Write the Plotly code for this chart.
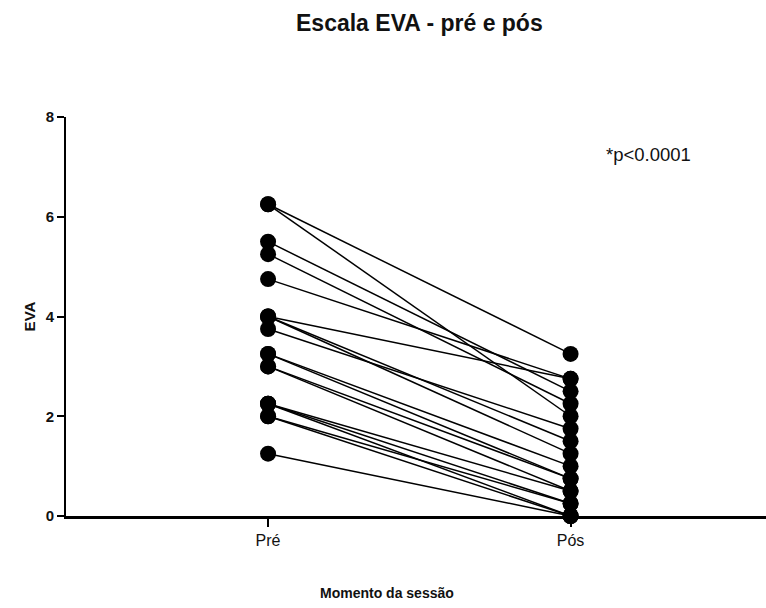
import plotly.graph_objects as go

moments = ["Pré", "Pós"]
pre = [6.25, 6.25, 5.5, 5.25, 4.75, 4.0, 4.0, 4.0, 3.75, 3.25, 3.25, 3.0, 3.0, 2.25, 2.25, 2.25, 2.0, 2.0, 1.25]
pos = [3.25, 2.0, 2.5, 2.25, 2.75, 2.75, 1.5, 1.25, 1.75, 1.0, 0.75, 0.5, 0.75, 0.25, 0.0, 0.5, 0.0, 0.25, 0.0]
y_ticks = [0, 2, 4, 6, 8]

xs, ys = [], []
for a, b in zip(pre, pos):
    xs += [0, 1, None]
    ys += [a, b, None]

W, H = 766, 608
L, R, T, B = 66, 0, 117, 92
PW, PH = W - L - R, H - T - B

fig = go.Figure()
fig.add_trace(go.Scatter(
    x=xs, y=ys, mode="lines+markers",
    line=dict(color="black", width=1.5),
    marker=dict(color="black", size=16),
    cliponaxis=False, showlegend=False, hoverinfo="skip"))

fig.update_layout(
    width=W, height=H,
    paper_bgcolor="white", plot_bgcolor="white",
    margin=dict(l=L, r=R, t=T, b=B, autoexpand=False),
    font=dict(family="Liberation Sans, Arial", color="#111"),
    annotations=[
        dict(text="<b>Escala EVA - pré e pós</b>", x=(420 - L) / PW, xref="paper",
             y=1 + (T - 23) / PH, yref="paper", showarrow=False,
             xanchor="center", yanchor="middle",
             font=dict(size=23, color="#111")),
        dict(text="*p<0.0001", x=(648 - L) / PW, xref="paper", y=7.24, yref="y",
             showarrow=False, xanchor="center", yanchor="middle",
             font=dict(size=18.5, color="#111")),
        dict(text="<b>Momento da sessão</b>", x=(387 - L) / PW, xref="paper",
             y=-(593 - (H - B)) / PH, yref="paper", showarrow=False,
             xanchor="center", yanchor="middle",
             font=dict(size=14, color="#111")),
    ],
)
fig.update_xaxes(
    range=[-0.668, 1.646], tickvals=[0, 1], ticktext=moments,
    showgrid=False, zeroline=False, showline=True, linecolor="black", linewidth=3,
    ticks="outside", ticklen=8, tickwidth=2, tickcolor="black",
    tickfont=dict(size=16, color="#111"))
fig.update_yaxes(
    range=[0, 8], tickvals=y_ticks,
    showgrid=False, zeroline=False, showline=True, linecolor="black", linewidth=2,
    ticks="outside", ticklen=7, tickwidth=2, tickcolor="black",
    tickfont=dict(size=15, color="#111", weight="bold"),
    title=dict(text="<b>EVA</b>", font=dict(size=15, color="#111"), standoff=6))

fig.write_html("out.html", config={"displayModeBar": False},
               post_script="document.body.style.margin='0';")
